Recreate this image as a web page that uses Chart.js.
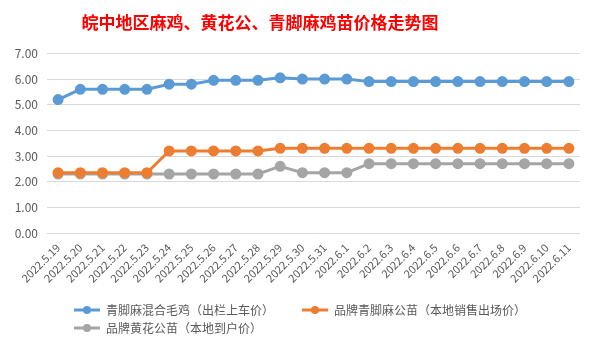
<!DOCTYPE html>
<html>
<head>
<meta charset="utf-8">
<script src="https://cdn.jsdelivr.net/npm/chart.js@4"></script>
<style>
  html, body { margin: 0; padding: 0; background: #fff; }
  #wrap { width: 597px; height: 351px; position: relative; }
</style>
</head>
<body>
<div id="wrap"><canvas id="chart"></canvas></div>
<script>
const title = "皖中地区麻鸡、黄花公、青脚麻鸡苗价格走势图";

const dates = [
  "2022.5.19", "2022.5.20", "2022.5.21", "2022.5.22", "2022.5.23", "2022.5.24",
  "2022.5.25", "2022.5.26", "2022.5.27", "2022.5.28", "2022.5.29", "2022.5.30",
  "2022.5.31", "2022.6.1", "2022.6.2", "2022.6.3", "2022.6.4", "2022.6.5",
  "2022.6.6", "2022.6.7", "2022.6.8", "2022.6.9", "2022.6.10", "2022.6.11"
];

// 青脚麻混合毛鸡（出栏上车价）
const maoji = [5.2, 5.6, 5.6, 5.6, 5.6, 5.8, 5.8, 5.95, 5.95, 5.95, 6.05, 6.0,
  6.0, 6.0, 5.9, 5.9, 5.9, 5.9, 5.9, 5.9, 5.9, 5.9, 5.9, 5.9];

// 品牌青脚麻公苗（本地销售出场价）
const qingjiao = [2.35, 2.35, 2.35, 2.35, 2.35, 3.2, 3.2, 3.2, 3.2, 3.2, 3.3, 3.3,
  3.3, 3.3, 3.3, 3.3, 3.3, 3.3, 3.3, 3.3, 3.3, 3.3, 3.3, 3.3];

// 品牌黄花公苗（本地到户价）
const huanghua = [2.3, 2.3, 2.3, 2.3, 2.3, 2.3, 2.3, 2.3, 2.3, 2.3, 2.6, 2.35,
  2.35, 2.35, 2.7, 2.7, 2.7, 2.7, 2.7, 2.7, 2.7, 2.7, 2.7, 2.7];

const names = ["青脚麻混合毛鸡（出栏上车价）", "品牌青脚麻公苗（本地销售出场价）", "品牌黄花公苗（本地到户价）"];
const colors = ["#5B9BD5", "#ED7D31", "#A5A5A5"];

const textColor = "#595959";
const font = "'Noto Sans CJK SC', 'Noto Sans', sans-serif";

// legend marker: short line with a dot, like Excel
const makeIcon = color => {
  const c = document.createElement("canvas");
  c.width = 48;
  c.height = 10;
  const g = c.getContext("2d");
  g.strokeStyle = color;
  g.lineWidth = 3;
  g.beginPath();
  g.moveTo(22, 5);
  g.lineTo(48, 5);
  g.stroke();
  g.fillStyle = color;
  g.beginPath();
  g.arc(35, 5, 4, 0, Math.PI * 2);
  g.fill();
  return c;
};

const series = [maoji, qingjiao, huanghua];

// shift title and legend to where Excel put them
const placeBoxes = {
  id: "placeBoxes",
  afterLayout(chart) {
    if (chart.titleBlock) {
      chart.titleBlock.right = chart.titleBlock.left + 520;
    }
    if (chart.legend) {
      chart.legend.left += 46;
    }
  }
};

new Chart(document.getElementById("chart"), {
  type: "line",
  data: {
    labels: dates,
    datasets: series.map((d, i) => ({
      label: names[i],
      data: d,
      borderColor: colors[i],
      backgroundColor: colors[i],
      pointBackgroundColor: colors[i],
      pointBorderColor: colors[i],
      borderWidth: 3,
      pointRadius: 4,
      tension: 0,
      fill: false
    }))
  },
  options: {
    responsive: true,
    maintainAspectRatio: false,
    animation: false,
    layout: { padding: { left: 0, right: 17, top: 0, bottom: 7 } },
    scales: {
      x: {
        offset: true,
        grid: { display: false, drawTicks: false },
        border: { display: false },
        ticks: {
          color: textColor,
          font: { family: font, size: 11 },
          maxRotation: 45,
          minRotation: 45,
          autoSkip: false,
          padding: 8
        },
        afterFit: s => { s.height = 65; }
      },
      y: {
        min: 0,
        max: 7,
        grid: { color: "#d9d9d9", drawTicks: false },
        border: { display: false },
        ticks: {
          stepSize: 1,
          color: textColor,
          font: { family: font, size: 12 },
          padding: 9,
          callback: v => v.toFixed(2)
        },
        afterFit: s => { s.width = 47; }
      }
    },
    plugins: {
      title: {
        display: true,
        text: title,
        color: "#FF0000",
        font: { family: font, size: 17, weight: "bold" },
        padding: { top: 12, bottom: 21 }
      },
      legend: {
        position: "bottom",
        align: "start",
        labels: {
          color: textColor,
          font: { family: font, size: 12 },
          usePointStyle: true,
          pointStyleWidth: 48,
          padding: 6,
          generateLabels: chart =>
            Chart.defaults.plugins.legend.labels.generateLabels(chart).map(l => ({
              ...l,
              pointStyle: makeIcon(colors[l.datasetIndex])
            }))
        }
      },
      tooltip: { enabled: false }
    }
  },
  plugins: [placeBoxes]
});
</script>
</body>
</html>
